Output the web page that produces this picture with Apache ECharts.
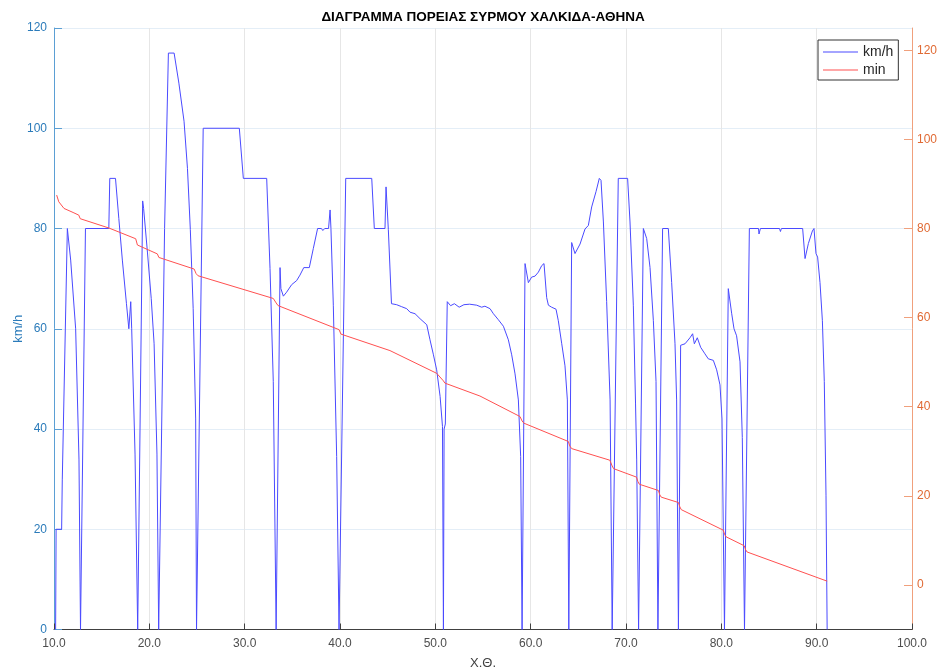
<!DOCTYPE html>
<html><head><meta charset="utf-8">
<script src="https://cdn.jsdelivr.net/npm/echarts@6/dist/echarts.min.js"></script>
<style>html,body{margin:0;padding:0;background:#fff}#c{width:941px;height:672px}</style>
</head><body><div id="c"></div>
<script>
const titleText = 'ΔΙΑΓΡΑΜΜΑ ΠΟΡΕΙΑΣ ΣΥΡΜΟΥ ΧΑΛΚΙΔΑ-ΑΘΗΝΑ';
const xName = 'Χ.Θ.';
const leftName = 'km/h';
const seriesNames = ['km/h', 'min'];
const xTicks = [10, 20, 30, 40, 50, 60, 70, 80, 90, 100];
const leftTicks = [0, 20, 40, 60, 80, 100, 120];
const rightTicks = [0, 20, 40, 60, 80, 100, 120];

// speed (km/h) vs position
const speedPoints = [
[10.17,0],[10.22,20],[10.8,20],[10.87,30],[11.4,80],[11.45,80],[11.75,73.7],[12.27,60],[12.62,34],[12.78,0],[12.85,0],[13.3,80],
[15.75,80],[15.85,90],[16.45,90],[16.8,82],[17.17,73.7],[17.6,65],[17.85,60],[17.95,60],[18.05,65.4],[18.15,60],[18.5,35],[18.78,0],[18.85,0],
[19.3,85.5],[19.4,84],[19.8,75.3],[20.2,66],[20.5,57],[20.8,35],[20.98,0],[21.05,0],[21.6,80],[22.0,115],[22.6,115],[23.1,109],[23.64,101.4],
[24.0,92],[24.3,79.8],[24.6,64],[24.86,42],[24.95,0],[25.05,0],[25.65,100],[29.44,100],[29.86,90],[32.31,90],[32.66,72],[33.0,49.5],[33.3,0],[33.4,0],
[33.71,72.2],[33.8,68],[34.06,66.5],[34.4,67.3],[34.93,68.8],[35.45,69.6],[35.8,70.7],[36.2,72.2],[36.78,72.2],[37.2,76],[37.65,80],[38.05,80],
[38.2,79.6],[38.4,80],[38.8,80],[38.96,83.7],[39.05,80],[39.3,64.7],[39.65,34.5],[39.9,0],[40.0,0],[40.6,90],[43.33,90],[43.6,80],[44.72,80],
[44.83,88.3],[45.07,79.8],[45.4,65],[45.94,64.8],[46.47,64.4],[47,64],[47.35,63.3],[47.87,63],[48.4,62],[49.1,60.8],[49.44,57.8],[49.8,54.8],
[50.14,51.8],[50.5,46.5],[50.75,40.5],[50.85,0],[50.92,40],[51.05,41],[51.25,65.4],[51.6,64.6],[52,65],[52.5,64.3],[53,64.8],[53.6,64.9],
[54.34,64.7],[54.86,64.3],[55.2,64.5],[55.74,64],[56.09,63],[56.61,61.8],[57.14,60.5],[57.66,57.8],[58.01,54.8],[58.36,51],[58.71,45.8],[58.95,34.5],
[59.1,0],[59.2,0],[59.41,73],[59.76,69.2],[60.1,70.3],[60.46,70.5],[60.81,71.3],[61.16,72.6],[61.4,73],[61.68,66.2],[61.86,64.7],[62.2,64.3],
[62.66,63.9],[62.9,61.6],[63.26,57],[63.6,52.6],[63.85,45.8],[64.0,0],[64.1,0],[64.3,77.2],[64.65,75],[65.18,76.9],[65.7,79.9],[66.05,80.6],
[66.4,84.3],[66.86,87.4],[67.2,90],[67.38,89.6],[67.63,81.3],[67.97,65.4],[68.33,45.8],[68.55,0],[68.65,0],[69.19,90],[70.17,90],[70.42,81.3],
[70.77,64.7],[71.0,45],[71.12,34],[71.22,34],[71.32,0],[71.4,0],[71.82,80],[71.99,80],[72.17,78],[72.52,72.2],[72.87,61.6],[73.15,49.5],
[73.35,0],[73.45,0],[73.84,80],[74.44,80],[74.79,69.2],[75.14,57],[75.31,45.8],[75.5,0],[75.58,0],[75.73,56.7],[76.19,57],[76.71,58.2],
[76.99,59],[77.17,57],[77.48,58.2],[77.83,56.3],[78.28,55],[78.63,54],[79.16,53.7],[79.51,51.8],[79.86,48.8],[80.07,42],[80.21,19.3],[80.33,0],
[80.42,0],[80.73,68],[81.08,63.1],[81.33,60],[81.6,58.6],[81.96,53.4],[82.2,38.3],[82.43,0],[82.5,0],[82.94,80],[83.9,80],[83.95,78.9],
[84.1,80],[86.1,80],[86.2,79.4],[86.3,80],[88.53,80],[88.78,74],[89.13,77],[89.55,79.5],[89.72,80],[89.85,80],[89.93,75],[90.1,74.3],
[90.35,69.2],[90.6,61.6],[90.8,49.5],[90.98,26.8],[91.1,0]
];

// remaining time (min) vs position
const timePoints = [
[10.28,87.5],[10.5,86],[11.05,84.5],[12.0,83.6],[12.6,83.0],[12.75,82.2],[12.9,81.8],[15.77,80.1],[18.57,77.7],[18.75,76.3],[18.95,75.9],
[20.84,74.3],[21.0,73.5],[21.15,73.1],[24.7,70.9],[24.9,69.9],[25.1,69.4],[33.0,64.3],[33.3,63.3],[33.5,62.7],[39.9,57.3],[40.1,56.3],[40.3,55.9],
[45.24,52.6],[50.14,47.5],[50.85,45.8],[51.0,45.3],[54.68,42.4],[58.88,37.8],[59.1,36.8],[59.3,36.3],[63.95,32.2],[64.1,31.2],[64.3,30.6],
[68.3,28],[68.55,26.7],[68.7,26.1],[71.1,24.2],[71.25,23.2],[71.4,22.6],[73.4,21.2],[73.55,20.2],[73.7,19.7],[75.5,18.5],[75.65,17.5],[75.8,16.9],
[80.2,12.3],[80.35,11.3],[80.5,10.8],[82.4,8.8],[82.55,7.9],[82.7,7.4],[91.1,0.85]
];

const FONT = '"Liberation Sans", Arial, Helvetica, sans-serif';
const chart = echarts.init(document.getElementById('c'), null, {renderer: 'canvas'});
chart.setOption({
  animation: false,
  backgroundColor: '#ffffff',
  textStyle: {fontFamily: FONT},
  title: {
    text: titleText, left: 483, top: 10, textAlign: 'center', padding: 0,
    textStyle: {fontSize: 13.5, fontWeight: 'bold', color: '#000', fontFamily: FONT}
  },
  legend: {
    data: seriesNames.map(n => ({name: n, icon: 'rect'})), orient: 'vertical', left: 818, top: 40,
    itemWidth: 35, itemHeight: 1, itemGap: 4, padding: [5, 5, 3, 5],
    borderColor: '#333', borderWidth: 1, backgroundColor: '#fff',
    textStyle: {fontSize: 14, color: '#262626', fontFamily: FONT, lineHeight: 14}
  },
  grid: {left: 54, right: 29, top: 28, bottom: 42.5, outerBoundsMode: 'none', containLabel: false},
  xAxis: {
    type: 'value', min: xTicks[0], max: xTicks[xTicks.length - 1], interval: 10,
    name: xName, nameLocation: 'middle', nameGap: 27, nameMoveOverlap: false,
    nameTextStyle: {color: '#404040', fontSize: 13, fontFamily: FONT},
    axisLine: {onZero: false, lineStyle: {color: '#404040'}},
    axisTick: {inside: true, length: 6, lineStyle: {color: '#404040'}},
    axisLabel: {color: '#4d4d4d', fontSize: 12, margin: 8, fontFamily: FONT, formatter: v => v.toFixed(1)},
    splitLine: {show: true, lineStyle: {color: '#e6e6e6'}}
  },
  yAxis: [
    {
      type: 'value', position: 'left', min: leftTicks[0], max: leftTicks[leftTicks.length - 1], interval: 20,
      name: leftName, nameLocation: 'middle', nameGap: 29, nameRotate: 90, nameMoveOverlap: false,
      nameTextStyle: {color: '#2b7bba', fontSize: 13, fontFamily: FONT},
      axisLine: {show: true, lineStyle: {color: '#5b9fd4'}},
      axisTick: {show: true, inside: true, length: 8, lineStyle: {color: '#5b9fd4'}},
      axisLabel: {color: '#2b7bba', fontSize: 12, margin: 7, fontFamily: FONT},
      splitLine: {show: true, lineStyle: {color: '#e4eef7'}}
    },
    {
      type: 'value', position: 'right', min: -10, max: 125,
      axisLine: {show: true, lineStyle: {color: '#f0a07c'}},
      axisTick: {show: true, inside: true, length: 8, customValues: rightTicks, lineStyle: {color: '#f0a07c'}},
      axisLabel: {color: '#e06a34', fontSize: 12, margin: 5, fontFamily: FONT, customValues: rightTicks},
      splitLine: {show: false}
    }
  ],
  series: [
    {
      name: seriesNames[0], type: 'line', yAxisIndex: 0, data: speedPoints, symbol: 'none',
      lineStyle: {color: '#4a4aff', width: 1}, itemStyle: {color: '#4a4aff'}
    },
    {
      name: seriesNames[1], type: 'line', yAxisIndex: 1, data: timePoints, symbol: 'none',
      lineStyle: {color: '#ff5050', width: 1}, itemStyle: {color: '#ff5050'}
    }
  ]
});
</script>
</body></html>
